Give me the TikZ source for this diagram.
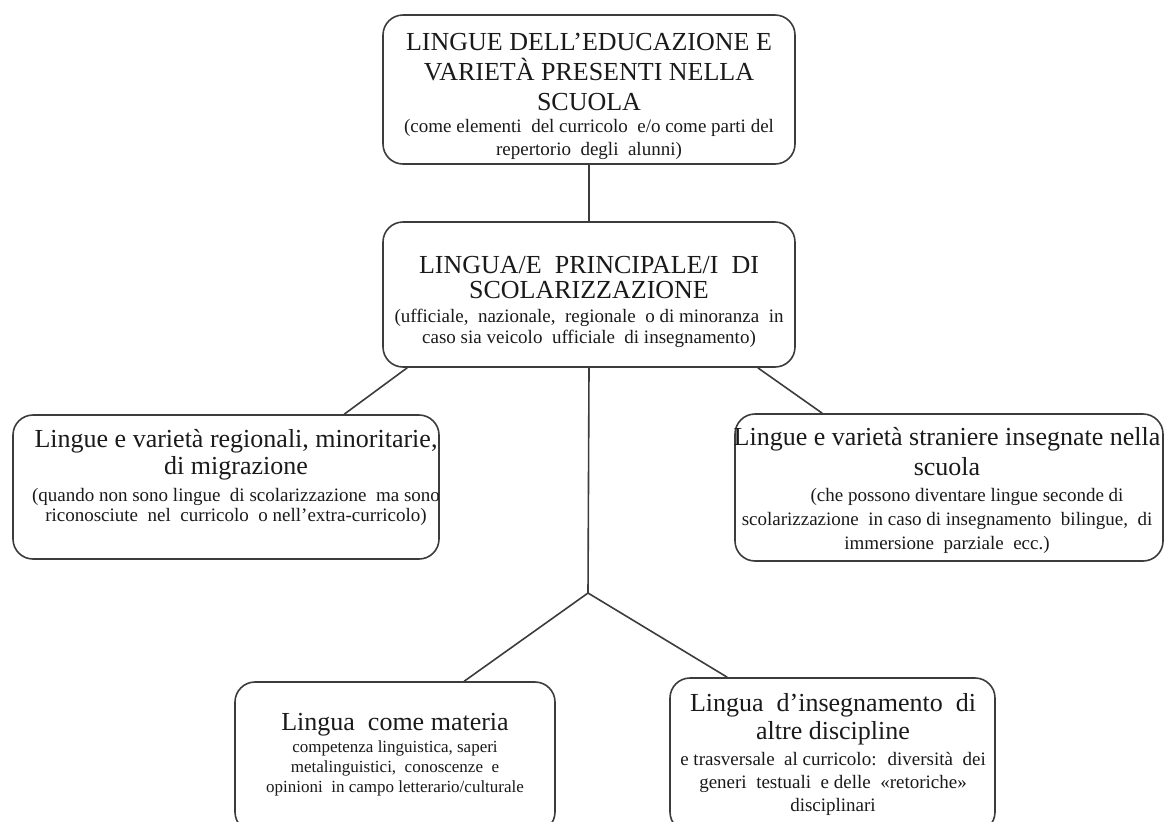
\documentclass[tikz,border=0pt]{standalone}
\usepackage{fontspec}
\setmainfont{Liberation Serif}
\definecolor{linec}{HTML}{3C3C3C}
\definecolor{textc}{HTML}{1A1A1A}
\tikzset{
  box/.style={draw=linec, line width=0.8pt, rounded corners=10pt, fill=white, inner sep=0pt},
  ttl/.style={align=center, inner sep=0pt, text=textc, font=\fontsize{13}{#1}\selectfont},
  nte/.style={align=center, inner sep=0pt, text=textc, font=\fontsize{9.5}{#1}\selectfont},
  smallnte/.style={align=center, inner sep=0pt, text=textc, font=\fontsize{8.5}{#1}\selectfont},
  conn/.style={draw=linec, line width=0.8pt}
}
\begin{document}
\begin{tikzpicture}[x=0.5pt, y=-0.5pt]
\useasboundingbox (0,0) rectangle (1165,821);
\clip (0,0) rectangle (1165,821);
% boxes
\node[box, minimum width=206pt, minimum height=74.5pt] (top) at (589,89.5) {};
\node[box, minimum width=206pt, minimum height=72.5pt] (mid) at (589,294.5) {};
\node[box, minimum width=213pt, minimum height=72pt] (left) at (226,487) {};
\node[box, minimum width=214pt, minimum height=73.5pt] (right) at (949,487.5) {};
\node[box, minimum width=160pt, minimum height=75pt] (bl) at (395,757) {};
\node[box, minimum width=162.5pt, minimum height=77pt] (br) at (832.5,755) {};
% texts
\node[ttl=15pt] (toptitle) at (589,72) {LINGUE DELL’EDUCAZIONE E\\VARIETÀ PRESENTI NELLA\\SCUOLA};
\node[nte=11.5pt] (topnote) at (589,139) {(come elementi \ del curricolo \ e/o come parti del\\repertorio \ degli \ alunni)};
\node[ttl=12.5pt] (midtitle) at (589,278) {LINGUA/E \ PRINCIPALE/I \ DI\\SCOLARIZZAZIONE};
\node[nte=10.5pt] (midnote) at (589,328) {(ufficiale, \ nazionale, \ regionale \ o di minoranza \ in\\caso sia veicolo \ ufficiale \ di insegnamento)};
\node[ttl=13.5pt] (lefttitle) at (236,455) {Lingue e varietà regionali, minoritarie,\\di migrazione};
\node[nte=10pt] (leftnote) at (236,507) {(quando non sono lingue \ di scolarizzazione \ ma sono\\riconosciute \ nel \ curricolo \ o nell’extra-curricolo)};
\node[ttl=15pt] (righttitle) at (947,452) {Lingue e varietà straniere insegnate nella\\scuola};
\node[nte=12pt] (rightnote) at (947,521) {\hspace*{20pt}(che possono diventare lingue seconde di\\scolarizzazione \ in caso di insegnamento \ bilingue, \ di\\immersione \ parziale \ ecc.)};
\node[ttl=15pt] (bltitle) at (395,725) {Lingua \ come materia};
\node[smallnte=10pt] (blnote) at (395,768) {competenza linguistica, saperi\\metalinguistici, \ conoscenze \ e\\opinioni \ in campo letterario/culturale};
\node[ttl=14pt] (brtitle) at (833,719) {Lingua \ d’insegnamento \ di\\altre discipline};
\node[nte=11.5pt] (brnote) at (833,784) {e trasversale \ al curricolo: \ diversità \ dei\\generi \ testuali \ e delle \ «retoriche»\\disciplinari};
% connectors
\coordinate (j) at (588,593);
\draw[conn] (top.south) -- (mid.north);
\draw[conn] ([xshift=12.5pt]mid.south west) -- ([xshift=166pt]left.north west);
\draw[conn] ([xshift=-19pt]mid.south east) -- ([xshift=44pt]right.north west);
\draw[conn] (mid.south) -- (j);
\draw[conn] (j) -- ([xshift=115pt]bl.north west);
\draw[conn] (j) -- ([xshift=29pt]br.north west);
\end{tikzpicture}
\end{document}
